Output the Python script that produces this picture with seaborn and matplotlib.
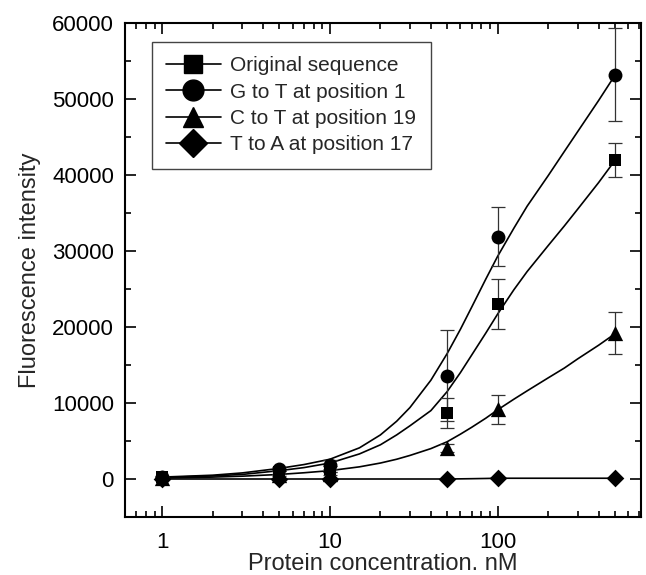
import matplotlib
matplotlib.use("Agg")
import matplotlib.pyplot as plt
from matplotlib.lines import Line2D
from matplotlib.ticker import MultipleLocator, LogLocator, NullFormatter, FixedLocator
import seaborn as sns
import pandas as pd
import numpy as np

conc = [1, 5, 10, 50, 100, 500]
orig_mean = [200, 900, 1300, 8700, 23000, 42000]
orig_err = [100, 200, 400, 2000, 3300, 2200]
g_mean = [250, 1300, 1900, 13600, 31900, 53200]
g_err = [100, 300, 600, 6000, 3900, 6100]
c_mean = [100, 500, 700, 4100, 9200, 19200]
c_err = [50, 150, 200, 500, 1900, 2800]
t_mean = [0, 0, 0, 0, 100, 100]
t_err = [0, 0, 0, 0, 0, 0]

# ---- fitted curves, values ----
fit_x = [1, 2, 3, 5, 7, 10, 15, 20, 25, 30, 40, 50, 60, 70, 85, 100,
         125, 150, 200, 250, 300, 400, 500]
orig_fit = [200, 400, 600, 1100, 1500, 2100, 3300, 4500, 5800, 7000, 9000,
            11500, 14000, 16300, 19200, 21700, 24900, 27300, 30700, 33300,
            35500, 39000, 41900]
g_fit = [250, 500, 800, 1400, 1900, 2600, 4100, 5800, 7600, 9400, 13000,
         16500, 19700, 22600, 26300, 29300, 33000, 35900, 39900, 43100,
         45700, 49800, 53100]
c_fit = [120, 250, 370, 600, 820, 1100, 1600, 2100, 2600, 3100, 4000,
         4900, 5900, 6800, 8000, 9100, 10500, 11600, 13300, 14600, 15800,
         17600, 19100]
t_fit = [0, 0, 0, 0, 0, 0, 0, 0, 0, 0, 0, 0, 20, 40, 70, 100, 100, 100,
         100, 100, 100, 100, 100]

labels = ["Original sequence", "G to T at position 1",
          "C to T at position 19", "T to A at position 17"]
markers = ["s", "o", "^", "D"]
msizes = [9, 10, 11, 9]
leg_msizes = [13, 15, 15, 14]

sns.set_style("ticks")
plt.rcParams['font.family'] = ['Liberation Sans', 'DejaVu Sans']

fig = plt.figure(figsize=(6.46, 5.75), dpi=100)
ax = fig.add_axes([125/646, 1-517/575, (641-125)/646, (517-23)/575])

fits = [orig_fit, g_fit, c_fit, t_fit]
means = [orig_mean, g_mean, c_mean, t_mean]
errs = [orig_err, g_err, c_err, t_err]

fit_df = pd.concat([pd.DataFrame({"x": fit_x, "y": f, "s": lab})
                    for f, lab in zip(fits, labels)])
sns.lineplot(data=fit_df, x="x", y="y", units="s", estimator=None,
             color="black", linewidth=1.2, ax=ax, legend=False, sort=True)

for m, e in zip(means, errs):
    ax.errorbar(conc, m, yerr=e, fmt="none", ecolor="#333333",
                elinewidth=0.9, capsize=5, capthick=0.9, zorder=3)

pts_df = pd.concat([pd.DataFrame({"x": conc, "y": m, "s": lab})
                    for m, lab in zip(means, labels)])
for lab, mk, ms in zip(labels, markers, msizes):
    sub = pts_df[pts_df.s == lab]
    sns.scatterplot(data=sub, x="x", y="y", marker=mk, s=ms**2,
                    color="black", edgecolor="black", linewidth=0, ax=ax,
                    zorder=4, legend=False)

ax.set_xscale("log")
ax.set_xlim(0.6, 716)
ax.set_ylim(-5000, 60000)
ax.xaxis.set_major_locator(FixedLocator([1, 10, 100]))
ax.set_xticklabels(["1", "10", "100"])
ax.xaxis.set_minor_locator(LogLocator(base=10, subs=np.arange(2, 10)))
ax.xaxis.set_minor_formatter(NullFormatter())
ax.yaxis.set_major_locator(FixedLocator([0, 10000, 20000, 30000, 40000, 50000, 60000]))
ax.yaxis.set_minor_locator(MultipleLocator(5000))

ax.tick_params(which="both", direction="in", top=True, right=True,
               labelsize=16, width=1.2, colors="black")
ax.tick_params(which="major", length=8)
ax.tick_params(axis="x", which="major", pad=11)
ax.tick_params(axis="y", which="major", pad=8)
ax.tick_params(which="minor", length=4)
for sp in ax.spines.values():
    sp.set_visible(True)
    sp.set_linewidth(1.5)
    sp.set_color("black")

ax.set_xlabel("Protein concentration. nM", fontsize=17, labelpad=0)
ax.set_ylabel("Fluorescence intensity", fontsize=17, labelpad=8)

handles = [Line2D([0], [0], color="black", lw=1.2, marker=mk, markersize=ms,
                  markerfacecolor="black", markeredgecolor="black")
           for mk, ms in zip(markers, leg_msizes)]
leg = ax.legend(handles, labels, loc="upper left",
                bbox_to_anchor=(0.052, 0.962), fontsize=15, frameon=True,
                fancybox=False, edgecolor="#444444", framealpha=1,
                handlelength=2.6, handletextpad=0.45, borderpad=0.7,
                labelspacing=0.35, borderaxespad=0)
leg.get_frame().set_linewidth(1.0)

fig.savefig("out.png", dpi=100)
